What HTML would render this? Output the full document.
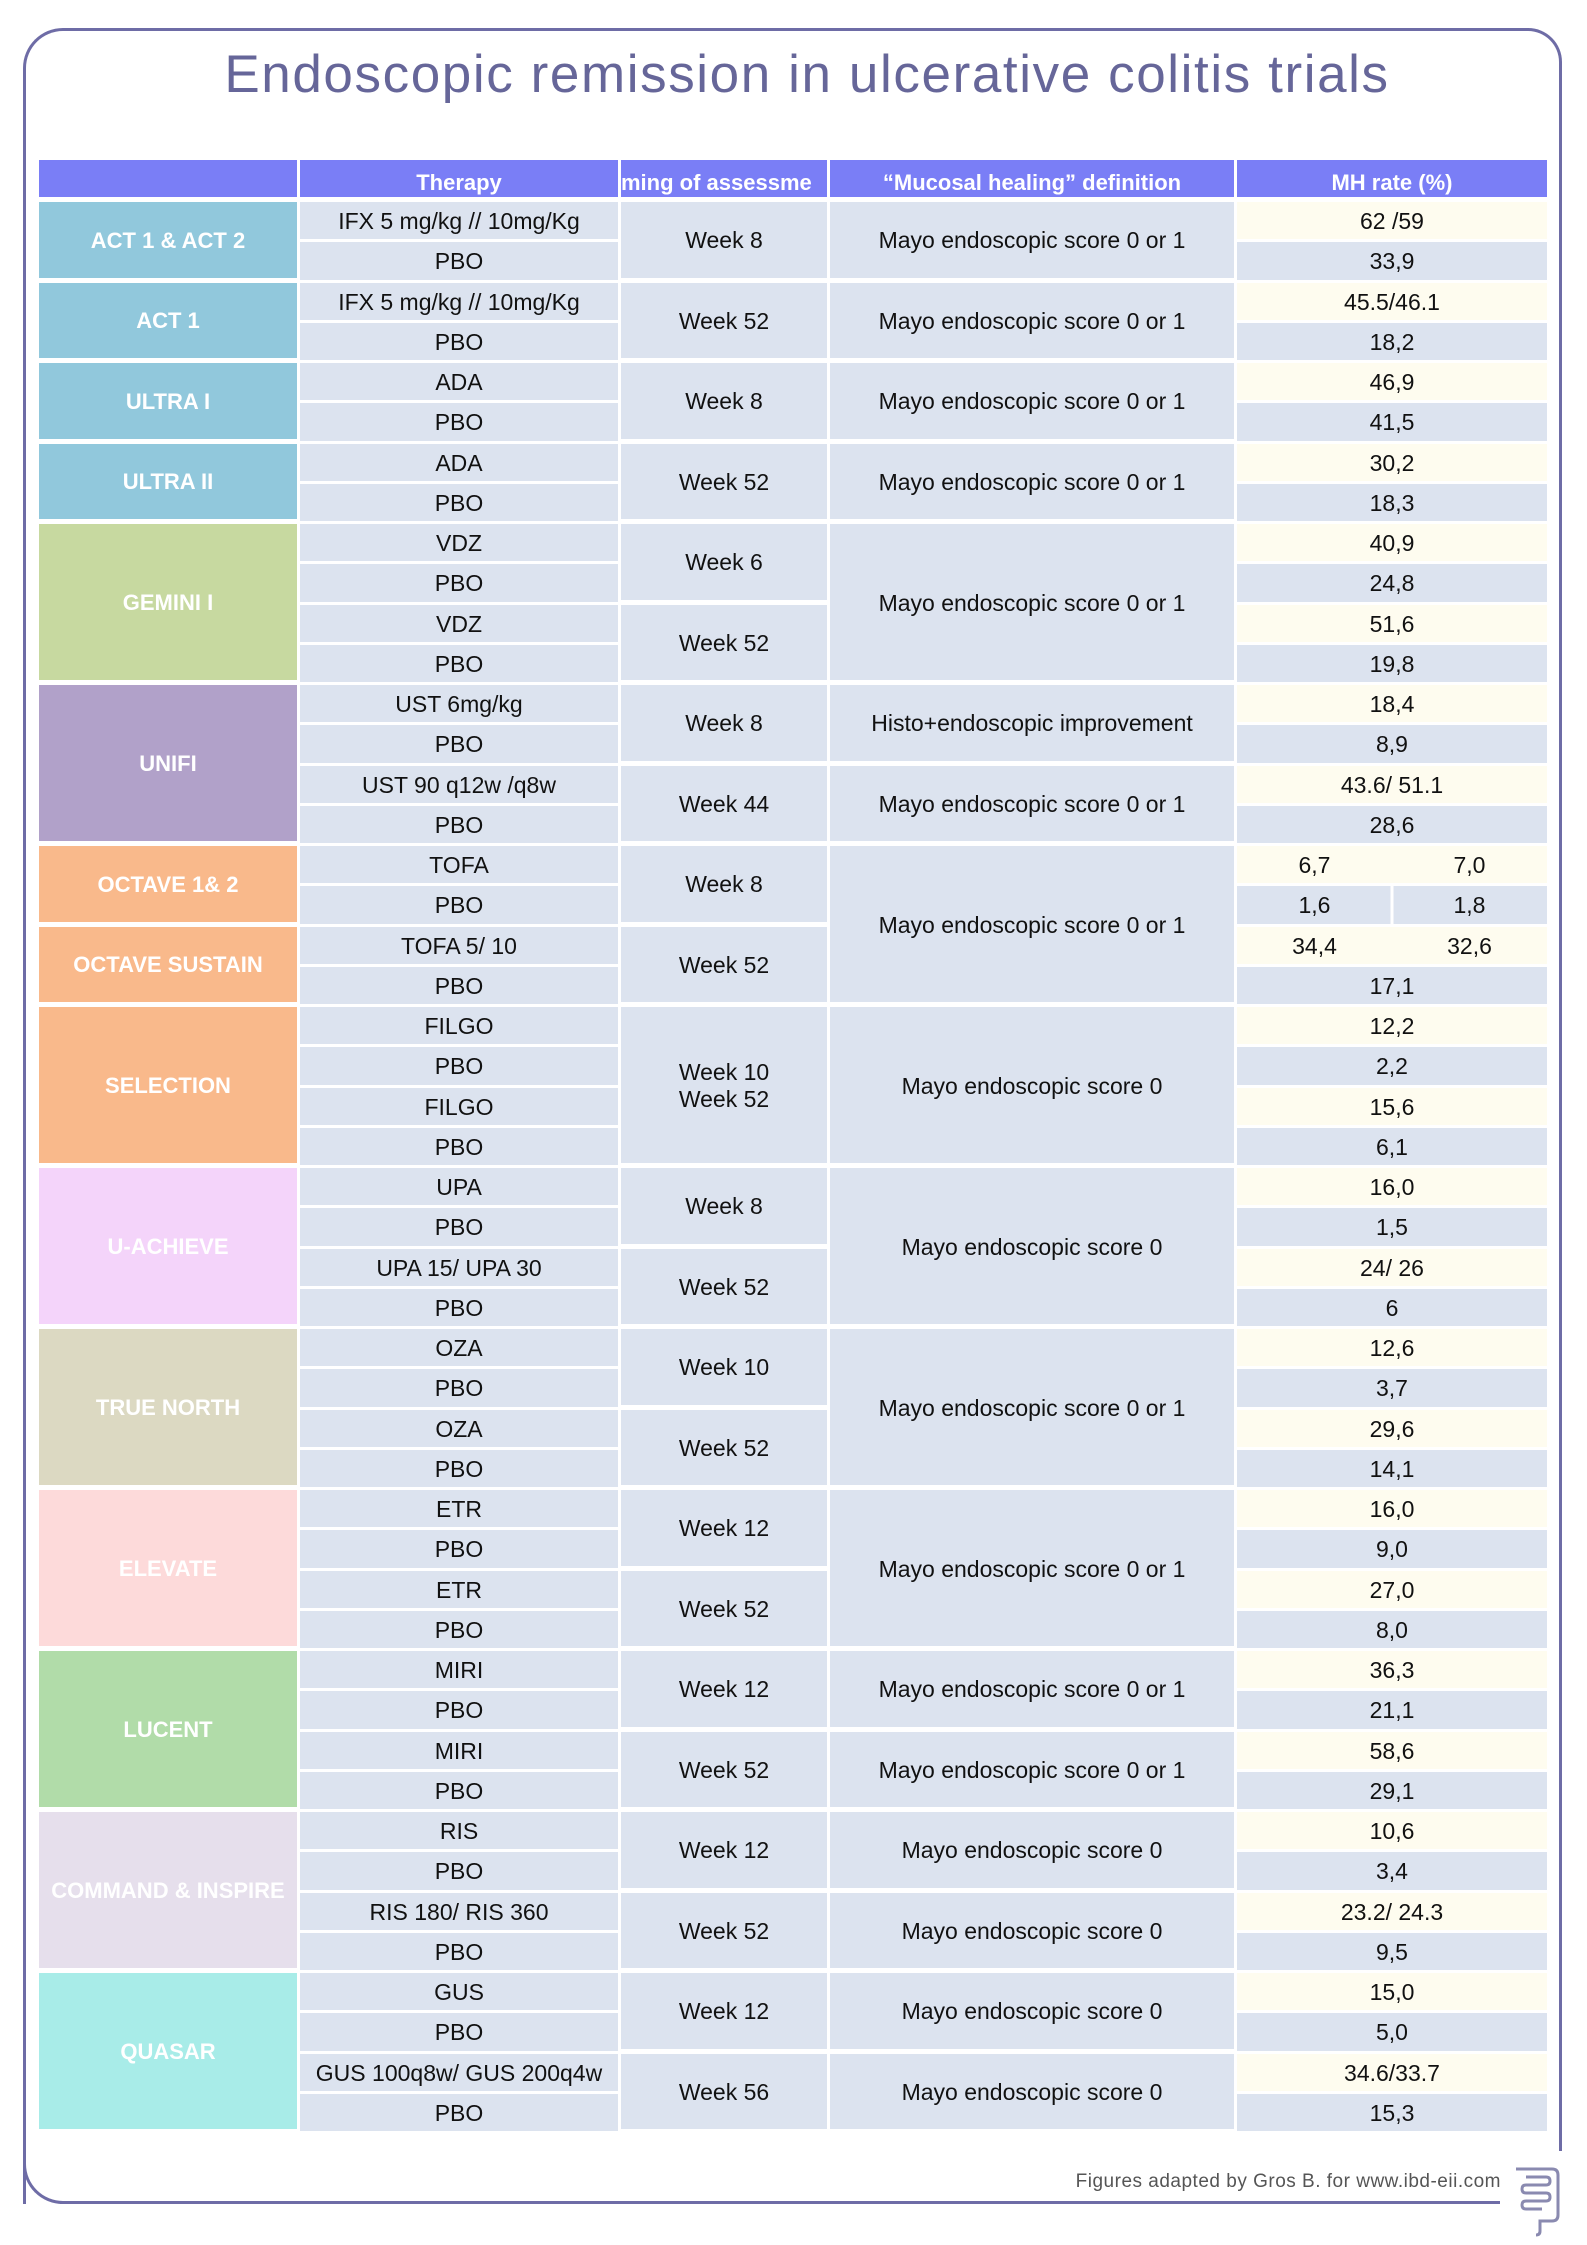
<!DOCTYPE html>
<html><head><meta charset="utf-8"><style>
*{margin:0;padding:0;box-sizing:border-box}
body{width:1587px;height:2245px;background:#fff;position:relative;overflow:hidden;font-family:"Liberation Sans Narrow","Liberation Sans",sans-serif}
.frame{position:absolute;left:23px;top:28px;width:1506px;height:2176px;border:3px solid #6e6ca6;border-right:none;border-bottom:none;border-top-left-radius:40px}
.fr2{position:absolute;left:1528px;top:28px;width:34px;height:2123px;border:3px solid #6e6ca6;border-left:none;border-bottom:none;border-top-right-radius:36px}
.bl{position:absolute;left:23px;top:2160px;width:60px;height:44px;border-left:3px solid #6e6ca6;border-bottom:3px solid #6e6ca6;border-bottom-left-radius:40px;background:#fff}
.bline{position:absolute;left:60px;top:2201px;width:1440px;height:3px;background:#6e6ca6}
h1{position:absolute;left:0;width:1614px;top:44px;text-align:center;font-family:"Liberation Sans",sans-serif;font-weight:normal;font-size:53px;letter-spacing:1.6px;color:#666699}
.foot{position:absolute;right:86px;top:2171px;font-family:"Liberation Sans",sans-serif;font-size:19px;color:#555;letter-spacing:.5px}
.g{position:absolute;left:39px;top:160px;display:grid;grid-template-columns:258px 318px 206px 404px 310px;column-gap:3px;grid-template-rows:42px repeat(48,40.25px)}
.g>div{display:flex;align-items:center;justify-content:center;text-align:center;border-bottom:3px solid #fff;background:#dce3ef;font-size:23px;color:#111;padding-top:2px}
.g>.h{background:#7a7ef6;color:#fff;font-weight:bold;font-size:22px;border-bottom:5px solid #fff;align-items:flex-end;padding-bottom:1px;overflow:hidden;white-space:nowrap}
.g>.l{color:#fff;font-weight:bold;font-size:22px;font-family:"Liberation Sans",sans-serif;grid-column:1;white-space:nowrap;border-bottom:5px solid #fff}
.c2{grid-column:2}.c3{grid-column:3;border-bottom:5px solid #fff!important}.c4{grid-column:4;border-bottom:5px solid #fff!important}
.g>.y{background:#fefcef}
.c5{grid-column:5}
.sp{justify-content:space-around!important}
</style></head><body>
<div class="frame"></div><div class="fr2"></div><div class="bl"></div><div class="bline"></div>
<h1>Endoscopic remission in ulcerative colitis trials</h1>
<div class="g">
<div class="h" style="grid-column:1"></div><div class="h" style="grid-column:2">Therapy</div><div class="h" style="grid-column:3;justify-content:flex-start">ming of assessme</div><div class="h" style="grid-column:4">“Mucosal healing” definition</div><div class="h" style="grid-column:5">MH rate (%)</div>

<div class="l" style="grid-row:2/span 2;background:#91c8dc">ACT 1 &amp; ACT 2</div>
<div class="c2" style="grid-row:2">IFX 5 mg/kg // 10mg/Kg</div><div class="c2" style="grid-row:3">PBO</div>
<div class="c3" style="grid-row:2/span 2">Week 8</div><div class="c4" style="grid-row:2/span 2">Mayo endoscopic score 0 or 1</div>
<div class="c5 y" style="grid-row:2">62 /59</div><div class="c5" style="grid-row:3">33,9</div>

<div class="l" style="grid-row:4/span 2;background:#91c8dc">ACT 1</div>
<div class="c2" style="grid-row:4">IFX 5 mg/kg // 10mg/Kg</div><div class="c2" style="grid-row:5">PBO</div>
<div class="c3" style="grid-row:4/span 2">Week 52</div><div class="c4" style="grid-row:4/span 2">Mayo endoscopic score 0 or 1</div>
<div class="c5 y" style="grid-row:4">45.5/46.1</div><div class="c5" style="grid-row:5">18,2</div>

<div class="l" style="grid-row:6/span 2;background:#91c8dc">ULTRA I</div>
<div class="c2" style="grid-row:6">ADA</div><div class="c2" style="grid-row:7">PBO</div>
<div class="c3" style="grid-row:6/span 2">Week 8</div><div class="c4" style="grid-row:6/span 2">Mayo endoscopic score 0 or 1</div>
<div class="c5 y" style="grid-row:6">46,9</div><div class="c5" style="grid-row:7">41,5</div>

<div class="l" style="grid-row:8/span 2;background:#91c8dc">ULTRA II</div>
<div class="c2" style="grid-row:8">ADA</div><div class="c2" style="grid-row:9">PBO</div>
<div class="c3" style="grid-row:8/span 2">Week 52</div><div class="c4" style="grid-row:8/span 2">Mayo endoscopic score 0 or 1</div>
<div class="c5 y" style="grid-row:8">30,2</div><div class="c5" style="grid-row:9">18,3</div>

<div class="l" style="grid-row:10/span 4;background:#c7d9a0">GEMINI I</div>
<div class="c2" style="grid-row:10">VDZ</div><div class="c2" style="grid-row:11">PBO</div><div class="c2" style="grid-row:12">VDZ</div><div class="c2" style="grid-row:13">PBO</div>
<div class="c3" style="grid-row:10/span 2">Week 6</div><div class="c3" style="grid-row:12/span 2">Week 52</div>
<div class="c4" style="grid-row:10/span 4">Mayo endoscopic score 0 or 1</div>
<div class="c5 y" style="grid-row:10">40,9</div><div class="c5" style="grid-row:11">24,8</div><div class="c5 y" style="grid-row:12">51,6</div><div class="c5" style="grid-row:13">19,8</div>

<div class="l" style="grid-row:14/span 4;background:#b1a1c9">UNIFI</div>
<div class="c2" style="grid-row:14">UST 6mg/kg</div><div class="c2" style="grid-row:15">PBO</div><div class="c2" style="grid-row:16">UST 90 q12w /q8w</div><div class="c2" style="grid-row:17">PBO</div>
<div class="c3" style="grid-row:14/span 2">Week 8</div><div class="c3" style="grid-row:16/span 2">Week 44</div>
<div class="c4" style="grid-row:14/span 2">Histo+endoscopic improvement</div><div class="c4" style="grid-row:16/span 2">Mayo endoscopic score 0 or 1</div>
<div class="c5 y" style="grid-row:14">18,4</div><div class="c5" style="grid-row:15">8,9</div><div class="c5 y" style="grid-row:16">43.6/ 51.1</div><div class="c5" style="grid-row:17">28,6</div>

<div class="l" style="grid-row:18/span 2;background:#f9b98b">OCTAVE 1&amp; 2</div>
<div class="l" style="grid-row:20/span 2;background:#f9b98b">OCTAVE SUSTAIN</div>
<div class="c2" style="grid-row:18">TOFA</div><div class="c2" style="grid-row:19">PBO</div><div class="c2" style="grid-row:20">TOFA 5/ 10</div><div class="c2" style="grid-row:21">PBO</div>
<div class="c3" style="grid-row:18/span 2">Week 8</div><div class="c3" style="grid-row:20/span 2">Week 52</div>
<div class="c4" style="grid-row:18/span 4">Mayo endoscopic score 0 or 1</div>
<div class="c5 y sp" style="grid-row:18"><span>6,7</span><span>7,0</span></div>
<div class="c5 sp" style="grid-row:19;background:linear-gradient(90deg,#dce3ef 49.5%,#fff 49.5%,#fff 50.5%,#dce3ef 50.5%)"><span>1,6</span><span>1,8</span></div>
<div class="c5 y sp" style="grid-row:20"><span>34,4</span><span>32,6</span></div>
<div class="c5" style="grid-row:21">17,1</div>

<div class="l" style="grid-row:22/span 4;background:#f9b98b">SELECTION</div>
<div class="c2" style="grid-row:22">FILGO</div><div class="c2" style="grid-row:23">PBO</div><div class="c2" style="grid-row:24">FILGO</div><div class="c2" style="grid-row:25">PBO</div>
<div class="c3" style="grid-row:22/span 4">Week 10<br>Week 52</div>
<div class="c4" style="grid-row:22/span 4">Mayo endoscopic score 0</div>
<div class="c5 y" style="grid-row:22">12,2</div><div class="c5" style="grid-row:23">2,2</div><div class="c5 y" style="grid-row:24">15,6</div><div class="c5" style="grid-row:25">6,1</div>

<div class="l" style="grid-row:26/span 4;background:#f4d4fa">U-ACHIEVE</div>
<div class="c2" style="grid-row:26">UPA</div><div class="c2" style="grid-row:27">PBO</div><div class="c2" style="grid-row:28">UPA 15/ UPA 30</div><div class="c2" style="grid-row:29">PBO</div>
<div class="c3" style="grid-row:26/span 2">Week 8</div><div class="c3" style="grid-row:28/span 2">Week 52</div>
<div class="c4" style="grid-row:26/span 4">Mayo endoscopic score 0</div>
<div class="c5 y" style="grid-row:26">16,0</div><div class="c5" style="grid-row:27">1,5</div><div class="c5 y" style="grid-row:28">24/ 26</div><div class="c5" style="grid-row:29">6</div>

<div class="l" style="grid-row:30/span 4;background:#dcd9c2">TRUE NORTH</div>
<div class="c2" style="grid-row:30">OZA</div><div class="c2" style="grid-row:31">PBO</div><div class="c2" style="grid-row:32">OZA</div><div class="c2" style="grid-row:33">PBO</div>
<div class="c3" style="grid-row:30/span 2">Week 10</div><div class="c3" style="grid-row:32/span 2">Week 52</div>
<div class="c4" style="grid-row:30/span 4">Mayo endoscopic score 0 or 1</div>
<div class="c5 y" style="grid-row:30">12,6</div><div class="c5" style="grid-row:31">3,7</div><div class="c5 y" style="grid-row:32">29,6</div><div class="c5" style="grid-row:33">14,1</div>

<div class="l" style="grid-row:34/span 4;background:#fddada">ELEVATE</div>
<div class="c2" style="grid-row:34">ETR</div><div class="c2" style="grid-row:35">PBO</div><div class="c2" style="grid-row:36">ETR</div><div class="c2" style="grid-row:37">PBO</div>
<div class="c3" style="grid-row:34/span 2">Week 12</div><div class="c3" style="grid-row:36/span 2">Week 52</div>
<div class="c4" style="grid-row:34/span 4">Mayo endoscopic score 0 or 1</div>
<div class="c5 y" style="grid-row:34">16,0</div><div class="c5" style="grid-row:35">9,0</div><div class="c5 y" style="grid-row:36">27,0</div><div class="c5" style="grid-row:37">8,0</div>

<div class="l" style="grid-row:38/span 4;background:#b1dca9">LUCENT</div>
<div class="c2" style="grid-row:38">MIRI</div><div class="c2" style="grid-row:39">PBO</div><div class="c2" style="grid-row:40">MIRI</div><div class="c2" style="grid-row:41">PBO</div>
<div class="c3" style="grid-row:38/span 2">Week 12</div><div class="c3" style="grid-row:40/span 2">Week 52</div>
<div class="c4" style="grid-row:38/span 2">Mayo endoscopic score 0 or 1</div><div class="c4" style="grid-row:40/span 2">Mayo endoscopic score 0 or 1</div>
<div class="c5 y" style="grid-row:38">36,3</div><div class="c5" style="grid-row:39">21,1</div><div class="c5 y" style="grid-row:40">58,6</div><div class="c5" style="grid-row:41">29,1</div>

<div class="l" style="grid-row:42/span 4;background:#e6dfec">COMMAND &amp; INSPIRE</div>
<div class="c2" style="grid-row:42">RIS</div><div class="c2" style="grid-row:43">PBO</div><div class="c2" style="grid-row:44">RIS 180/ RIS 360</div><div class="c2" style="grid-row:45">PBO</div>
<div class="c3" style="grid-row:42/span 2">Week 12</div><div class="c3" style="grid-row:44/span 2">Week 52</div>
<div class="c4" style="grid-row:42/span 2">Mayo endoscopic score 0</div><div class="c4" style="grid-row:44/span 2">Mayo endoscopic score 0</div>
<div class="c5 y" style="grid-row:42">10,6</div><div class="c5" style="grid-row:43">3,4</div><div class="c5 y" style="grid-row:44">23.2/ 24.3</div><div class="c5" style="grid-row:45">9,5</div>

<div class="l" style="grid-row:46/span 4;background:#a8ece8">QUASAR</div>
<div class="c2" style="grid-row:46">GUS</div><div class="c2" style="grid-row:47">PBO</div><div class="c2" style="grid-row:48">GUS 100q8w/ GUS 200q4w</div><div class="c2" style="grid-row:49">PBO</div>
<div class="c3" style="grid-row:46/span 2">Week 12</div><div class="c3" style="grid-row:48/span 2">Week 56</div>
<div class="c4" style="grid-row:46/span 2">Mayo endoscopic score 0</div><div class="c4" style="grid-row:48/span 2">Mayo endoscopic score 0</div>
<div class="c5 y" style="grid-row:46">15,0</div><div class="c5" style="grid-row:47">5,0</div><div class="c5 y" style="grid-row:48">34.6/33.7</div><div class="c5" style="grid-row:49">15,3</div>
</div>
<div class="foot">Figures adapted by Gros B. for www.ibd-eii.com</div>
<svg style="position:absolute;left:1512px;top:2165px" width="50" height="72" viewBox="0 0 50 72" fill="none" stroke="#8a8ab0" stroke-width="3">
<path d="M4 4 H40 Q46 4 46 10 V50 Q46 56 40 56 H28 V66 Q28 70 24 70"/>
<path d="M14 12 H34 Q38 12 38 16 Q38 20 34 20 H14 Q10 20 10 24 Q10 28 14 28 H34 Q38 28 38 32 Q38 36 34 36 H14 Q10 36 10 40 Q10 44 14 44 H30"/>
</svg>
</body></html>
